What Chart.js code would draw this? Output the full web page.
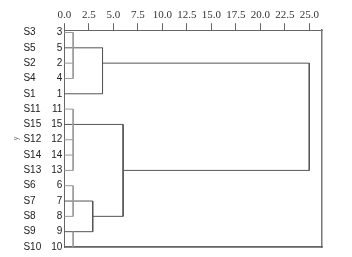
<!DOCTYPE html>
<html>
<head>
<title>Dendrogram</title>
<script src="https://cdn.jsdelivr.net/npm/chart.js@4"></script>
<style>
  body { margin: 0; background: #fff; }
  #wrap { width: 352px; height: 257px; }
</style>
</head>
<body>
<div id="wrap"><canvas id="dendro"></canvas></div>
<script>
// leaves, top to bottom
var leafNames = ['S3','S5','S2','S4','S1','S11','S15','S12','S14','S13','S6','S7','S8','S9','S10'];
var leafIds = ['3','5','2','4','1','11','15','12','14','13','6','7','8','9','10'];
var distTicks = [0, 2.5, 5, 7.5, 10, 12.5, 15, 17.5, 20, 22.5, 25];

// horizontal links: [row, from distance, to distance]
var darkH = [[1,0,3.9],[4,0,3.9],[2,3.9,25],[6,0,6],[11,0,2.9],[13,0,2.9],[12,2.9,6],[9,6,25],[14,0,26.3]];
// vertical links: [distance, from row, to row]
var darkV = [[3.9,1,4],[25,2,9],[6,6,12],[2.9,11,13]];
var lightH = [[0,0,0.9],[2,0,0.9],[3,0,0.9],[5,0,0.9],[7,0,0.9],[8,0,0.9],[9,0,0.9],[10,0,0.9],[12,0,0.9]];
var lightV = [[0.9,0,3],[0.9,5,9],[0.9,10,12],[0.9,13,14]];

var rows = leafIds.map(function(d, i) { return i; });

function segs(hs, vs) {
  var pts = [];
  hs.forEach(function(h) {
    pts.push({x: h[1], y: h[0]}, {x: h[2], y: h[0]}, {x: null, y: null});
  });
  vs.forEach(function(v) {
    pts.push({x: v[0], y: v[1]}, {x: v[0], y: v[2]}, {x: null, y: null});
  });
  return pts;
}

var frame = '#666';
var setRows = function(scale) { scale.ticks = rows.map(function(r) { return {value: r}; }); };
var yRange = {min: -0.15, max: 14, reverse: true};

new Chart(document.getElementById('dendro'), {
  type: 'scatter',
  data: {
    datasets: [
      {data: segs(lightH, lightV), borderColor: '#999', borderWidth: 1, showLine: true, pointRadius: 0, spanGaps: false, clip: false},
      {data: segs(darkH, darkV), borderColor: '#555', borderWidth: 1, showLine: true, pointRadius: 0, spanGaps: false, clip: false}
    ]
  },
  options: {
    responsive: true,
    maintainAspectRatio: false,
    animation: false,
    layout: {padding: {left: 12, right: 30, top: 8, bottom: 9}},
    plugins: {legend: {display: false}, tooltip: {enabled: false}},
    scales: {
      x: {
        position: 'top', min: 0, max: 26.3,
        afterBuildTicks: function(scale) { scale.ticks = distTicks.map(function(v) { return {value: v}; }); },
        ticks: {
          callback: function(v) { return v.toFixed(1); },
          font: {family: 'Liberation Serif', size: 11}, color: '#333', padding: 1, maxRotation: 0, autoSkip: false
        },
        grid: {display: true, drawOnChartArea: false, drawTicks: true, tickLength: 7, color: frame},
        border: {display: true, color: frame}
      },
      xb: {
        position: 'bottom', min: 0, max: 26.3,
        ticks: {display: false},
        grid: {display: false, drawTicks: false},
        border: {display: true, color: '#777', width: 1.5}
      },
      y: Object.assign({
        position: 'left', weight: 0,
        afterBuildTicks: setRows,
        ticks: {
          callback: function(v) { return leafIds[v]; },
          font: {family: 'Liberation Sans', size: 10}, color: '#222', padding: 2, autoSkip: false
        },
        grid: {display: false, drawTicks: false},
        border: {display: true, color: frame}
      }, yRange),
      ys: Object.assign({
        position: 'left', weight: 1,
        afterBuildTicks: setRows,
        ticks: {
          callback: function(v) { return leafNames[v]; },
          font: {family: 'Liberation Sans', size: 10}, color: '#222', padding: 4, crossAlign: 'far', autoSkip: false
        },
        grid: {display: false, drawTicks: false},
        border: {display: false}
      }, yRange),
      yt: Object.assign({
        position: 'left', weight: 2,
        ticks: {display: false},
        grid: {display: false, drawTicks: false},
        border: {display: false},
        title: {display: true, text: 'y', font: {family: 'Liberation Sans', size: 7}, color: '#777', padding: {top: 0, bottom: 3}}
      }, yRange),
      yr: Object.assign({
        position: 'right',
        ticks: {display: false},
        grid: {display: false, drawTicks: false},
        border: {display: true, color: '#777', width: 1.5}
      }, yRange)
    }
  }
});
</script>
</body>
</html>
